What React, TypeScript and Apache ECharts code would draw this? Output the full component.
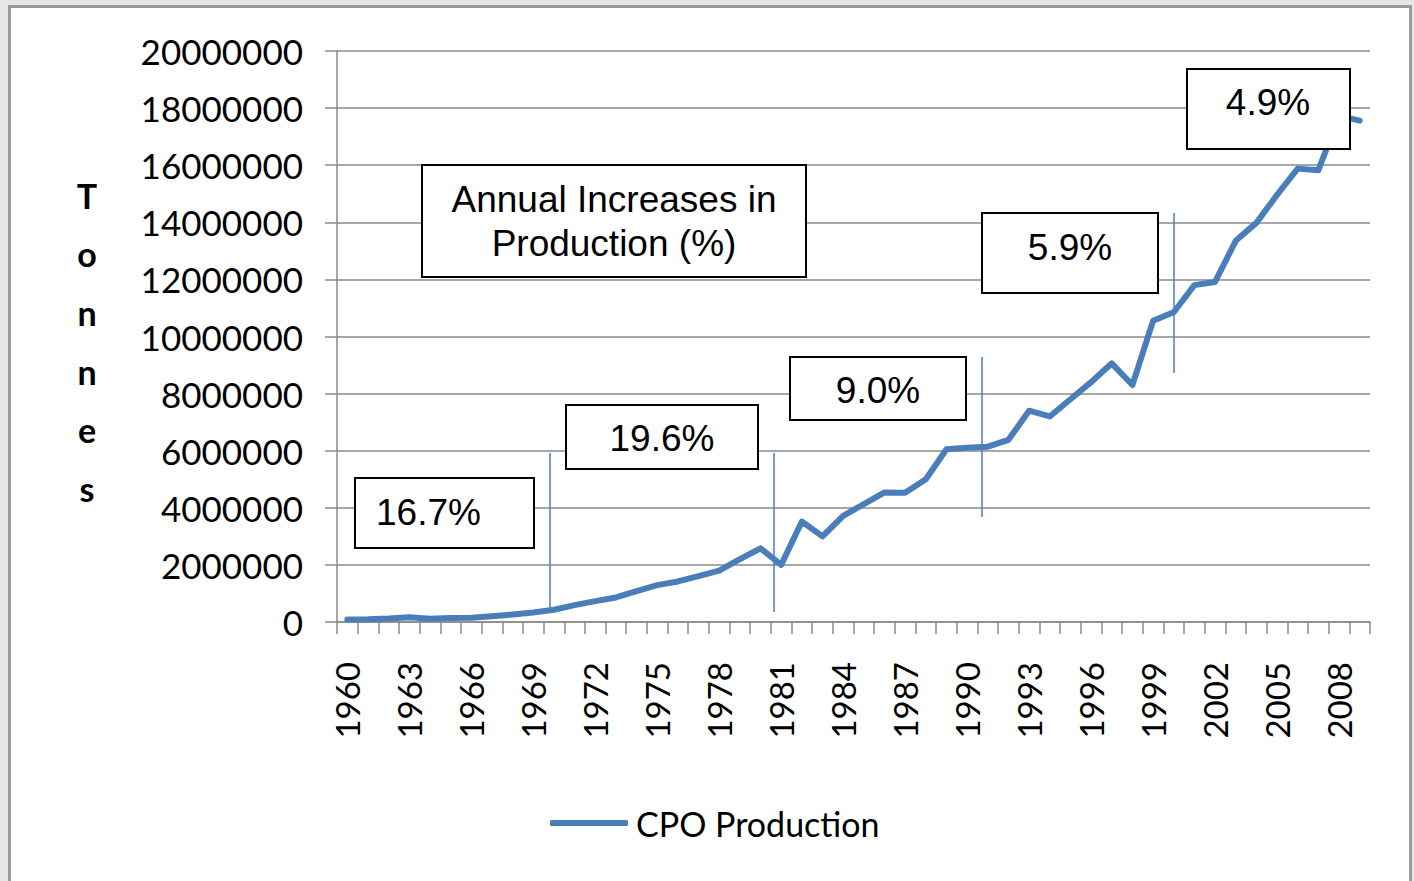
import React, { useEffect, useRef } from "react";
import * as echarts from "echarts";

const years = [
  "1960", "1961", "1962", "1963", "1964", "1965", "1966", "1967", "1968", "1969",
  "1970", "1971", "1972", "1973", "1974", "1975", "1976", "1977", "1978", "1979",
  "1980", "1981", "1982", "1983", "1984", "1985", "1986", "1987", "1988", "1989",
  "1990", "1991", "1992", "1993", "1994", "1995", "1996", "1997", "1998", "1999",
  "2000", "2001", "2002", "2003", "2004", "2005", "2006", "2007", "2008", "2009",
];

const production = [
  90000, 95000, 120000, 170000, 110000, 140000, 150000, 200000, 260000, 330000,
  430000, 590000, 730000, 860000, 1080000, 1290000, 1420000, 1610000, 1800000, 2200000,
  2580000, 2000000, 3520000, 3000000, 3720000, 4130000, 4540000, 4530000, 5000000, 6050000,
  6100000, 6140000, 6380000, 7400000, 7200000, 7800000, 8400000, 9060000, 8300000, 10550000,
  10850000, 11800000, 11910000, 13350000, 13980000, 14960000, 15880000, 15820000, 17730000, 17560000,
];

const seriesName = "CPO Production";
const yAxisName = "Tonnes";
const titleLines = ["Annual Increases in", "Production (%)"];
const increaseLabels = ["16.7%", "19.6%", "9.0%", "5.9%", "4.9%"];

const BLUE = "#4a7ebb";
const GRID = "#8a8a8a";

function box(x: number, y: number, w: number, h: number) {
  return {
    type: "rect",
    z: 50,
    shape: { x, y, width: w, height: h },
    style: { fill: "#ffffff", stroke: "#000000", lineWidth: 2 },
  };
}

function label(text: string, x: number, y: number, align = "center") {
  return {
    type: "text",
    z: 51,
    x,
    y,
    style: {
      text,
      fill: "#000000",
      fontFamily: "Liberation Sans, Arial, sans-serif",
      fontSize: 37,
      align,
      verticalAlign: "middle",
    },
  };
}

function vline(x: number, y1: number, y2: number) {
  return {
    type: "line",
    z: 45,
    shape: { x1: x, y1, x2: x, y2 },
    style: { stroke: BLUE, lineWidth: 1.5 },
  };
}

export default function App() {
  const ref = useRef<HTMLDivElement>(null);

  useEffect(() => {
    if (!ref.current) return;
    const chart = echarts.init(ref.current, undefined, { renderer: "svg" });
    const option: any = {
      animation: false,
      backgroundColor: "transparent",
      grid: {
        left: 337,
        right: 44,
        top: 51,
        bottom: 259,
        containLabel: false,
        outerBoundsMode: "none",
      },
      legend: {
        data: [seriesName],
        left: 545,
        top: 801,
        icon: "roundRect",
        itemWidth: 78,
        itemHeight: 6,
        textStyle: {
          fontFamily: "Lato, sans-serif",
          fontSize: 34,
          color: "#000000",
          padding: [0, 0, 0, 3],
        },
      },
      xAxis: {
        type: "category",
        data: years,
        boundaryGap: true,
        axisLine: { show: true, lineStyle: { color: GRID, width: 1.5 } },
        axisTick: { show: true, interval: 0, length: 12, lineStyle: { color: GRID, width: 1.5 } },
        axisLabel: {
          interval: 2,
          rotate: 90,
          margin: 40,
          fontSize: 33,
          fontFamily: "Lato, sans-serif",
          color: "#000000",
        },
        splitLine: { show: false },
      },
      yAxis: {
        type: "value",
        min: 0,
        max: 20000000,
        interval: 2000000,
        axisLine: { show: true, lineStyle: { color: GRID, width: 1.5 } },
        axisTick: { show: true, length: 12, lineStyle: { color: GRID, width: 1.5 } },
        axisLabel: {
          margin: 34,
          fontSize: 35,
          fontFamily: "Lato, sans-serif",
          color: "#000000",
          formatter: (v: number) => String(v),
        },
        splitLine: { show: true, lineStyle: { color: GRID, width: 1.5 } },
      },
      series: [
        {
          type: "line",
          name: seriesName,
          data: production,
          symbol: "none",
          showSymbol: false,
          lineStyle: { color: BLUE, width: 6, join: "round", cap: "round" },
          itemStyle: { color: BLUE },
          z: 3,
        },
      ],
      graphic: [
        {
          type: "text",
          z: 51,
          x: 87,
          y: 166,
          style: {
            text: yAxisName.split("").join("\n"),
            fill: "#000000",
            fontFamily: "Lato, sans-serif",
            fontWeight: "bold",
            fontSize: 34,
            lineHeight: 58.6,
            align: "center",
            verticalAlign: "top",
          },
        },
        vline(550, 453, 610),
        vline(774, 453, 612),
        vline(982, 357, 517),
        vline(1174, 213, 373),
        box(422, 165, 384, 112),
        label(titleLines[0], 614, 199),
        label(titleLines[1], 614, 243),
        box(355, 478, 179, 70),
        label(increaseLabels[0], 376, 512, "left"),
        box(566, 405, 192, 64),
        label(increaseLabels[1], 662, 438),
        box(790, 357, 176, 63),
        label(increaseLabels[2], 878, 390),
        box(982, 213, 176, 80),
        label(increaseLabels[3], 1070, 247),
        box(1187, 69, 163, 80),
        label(increaseLabels[4], 1268, 102),
      ],
    };
    chart.setOption(option);
    return () => chart.dispose();
  }, []);

  return (
    <div
      style={{
        position: "fixed",
        left: 0,
        top: 0,
        width: 1414,
        height: 881,
        background: "#e6e6e6",
        overflow: "hidden",
      }}
    >
      <div
        style={{
          position: "absolute",
          left: 8,
          top: 5,
          width: 1398,
          height: 900,
          background: "#ffffff",
          border: "3px solid #9a9a9a",
        }}
      />
      <div
        ref={ref}
        style={{ position: "absolute", left: 0, top: 0, width: 1414, height: 881 }}
      />
    </div>
  );
}
